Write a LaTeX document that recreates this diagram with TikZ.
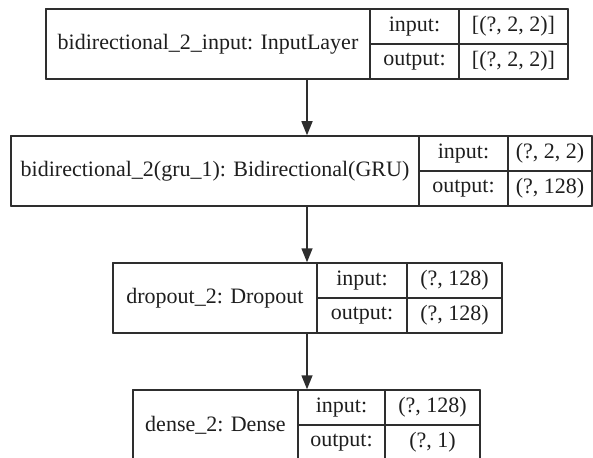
\documentclass[tikz,border=0pt]{standalone}
\usepackage{fontspec}
\setmainfont{Liberation Serif}
\usetikzlibrary{arrows.meta}

\definecolor{linec}{HTML}{2E2E2E}
\definecolor{txtc}{HTML}{1E1E1E}

\tikzset{
  layer/.style={draw=linec,line width=1.5pt,inner sep=0pt},
  cell/.style={draw=linec,line width=1.5pt,inner sep=0pt,text=txtc,
    font=\fontsize{22}{26}\selectfont},
  edge/.style={draw=linec,line width=1.5pt,-{Triangle[length=14pt,width=11pt]}}
}

\begin{document}
\begin{tikzpicture}[x=1pt,y=-1pt,line cap=round,line join=round]
  \useasboundingbox (0,0) rectangle (593,457);
  % input layer
  \node[layer,minimum width=522pt,minimum height=70pt] (inp) at (307,44) {};
  \node[cell,minimum width=324pt,minimum height=70pt] (inpname) at (208,44) {bidirectional\_2\_input: InputLayer};
  \node[cell,minimum width=89pt,minimum height=35pt] (inpik) at (414.5,26.5) {input:};
  \node[cell,minimum width=109pt,minimum height=35pt] (inpiv) at (513.5,26.5) {[(?, 2, 2)]};
  \node[cell,minimum width=89pt,minimum height=35pt] (inpok) at (414.5,61.5) {output:};
  \node[cell,minimum width=109pt,minimum height=35pt] (inpov) at (513.5,61.5) {[(?, 2, 2)]};
  % bidirectional gru
  \node[layer,minimum width=581pt,minimum height=70pt] (rnn) at (301.5,171) {};
  \node[cell,minimum width=408pt,minimum height=70pt] (rnnname) at (215,171) {bidirectional\_2(gru\_1): Bidirectional(GRU)};
  \node[cell,minimum width=89pt,minimum height=35pt] (rnnik) at (463.5,153.5) {input:};
  \node[cell,minimum width=84pt,minimum height=35pt] (rnniv) at (550,153.5) {(?, 2, 2)};
  \node[cell,minimum width=89pt,minimum height=35pt] (rnnok) at (463.5,188.5) {output:};
  \node[cell,minimum width=84pt,minimum height=35pt] (rnnov) at (550,188.5) {(?, 128)};
  % dropout
  \node[layer,minimum width=389pt,minimum height=70pt] (drop) at (307.5,298) {};
  \node[cell,minimum width=204pt,minimum height=70pt] (dropname) at (215,298) {dropout\_2: Dropout};
  \node[cell,minimum width=90pt,minimum height=35pt] (dropik) at (362,280.5) {input:};
  \node[cell,minimum width=95pt,minimum height=35pt] (dropiv) at (454.5,280.5) {(?, 128)};
  \node[cell,minimum width=90pt,minimum height=35pt] (dropok) at (362,315.5) {output:};
  \node[cell,minimum width=95pt,minimum height=35pt] (dropov) at (454.5,315.5) {(?, 128)};
  % dense
  \node[layer,minimum width=347pt,minimum height=70pt] (dense) at (306.5,425) {};
  \node[cell,minimum width=165pt,minimum height=70pt] (densename) at (215.5,425) {dense\_2: Dense};
  \node[cell,minimum width=87pt,minimum height=35pt] (denseik) at (341.5,407.5) {input:};
  \node[cell,minimum width=95pt,minimum height=35pt] (denseiv) at (432.5,407.5) {(?, 128)};
  \node[cell,minimum width=87pt,minimum height=35pt] (denseok) at (341.5,442.5) {output:};
  \node[cell,minimum width=95pt,minimum height=35pt] (denseov) at (432.5,442.5) {(?, 1)};
  % edges
  \draw[edge] (inp.south) -- (inp.south |- rnn.north);
  \draw[edge] (inp.south |- rnn.south) -- (inp.south |- drop.north);
  \draw[edge] (inp.south |- drop.south) -- (inp.south |- dense.north);
\end{tikzpicture}
\end{document}
